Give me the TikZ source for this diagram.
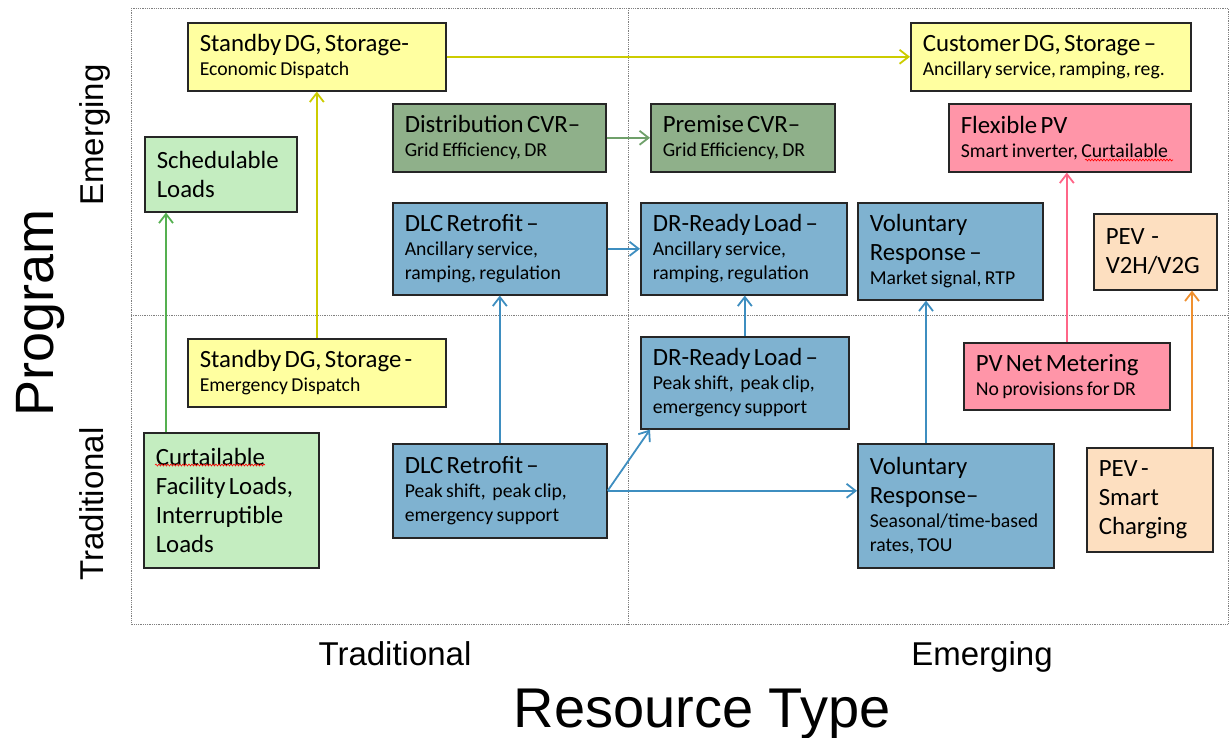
\documentclass[tikz,border=0pt]{standalone}
\usepackage{fontspec}
\newfontfamily\boxfont{Carlito}
\newfontfamily\axisfont{Liberation Sans}
\usetikzlibrary{arrows.meta,decorations.pathmorphing}

\definecolor{fillyel}{HTML}{FFFFA0}
\definecolor{fillgrn}{HTML}{C4EDC0}
\definecolor{filldkg}{HTML}{8FB08A}
\definecolor{fillblu}{HTML}{7FB2D0}
\definecolor{fillpnk}{HTML}{FF95A8}
\definecolor{fillpch}{HTML}{FDDFC0}
\definecolor{lineyel}{HTML}{CCCC00}
\definecolor{linegrn}{HTML}{55B050}
\definecolor{linedkg}{HTML}{6FA06A}
\definecolor{lineblu}{HTML}{3E8EC0}
\definecolor{linepnk}{HTML}{FF6688}
\definecolor{lineorg}{HTML}{F0902E}

\newcommand{\headtxt}{\fontsize{24.8}{29}\selectfont}
\newcommand{\notetxt}{\fontsize{19.7}{24}\selectfont}
\newcommand{\boxtxt}[2]{{\headtxt #1\par}{\notetxt #2\par}}

\begin{document}
\begin{tikzpicture}[x=1pt,y=-1pt,
  box/.style={rectangle, draw=black!85, line width=1.6pt, anchor=north west,
    inner xsep=12pt, inner ysep=0pt, font=\boxfont, align=left},
  ybox/.style={box, fill=fillyel},
  gbox/.style={box, fill=fillgrn},
  dbox/.style={box, fill=filldkg},
  bbox/.style={box, fill=fillblu},
  pbox/.style={box, fill=fillpnk},
  obox/.style={box, fill=fillpch},
  arr/.style={line width=1.8pt, -{Straight Barb[length=9pt,width=14pt]}},
  frame/.style={densely dotted, gray, line width=0.8pt},
  axis/.style={font=\axisfont\fontsize{33}{36}\selectfont, anchor=base},
  title/.style={font=\axisfont\fontsize{#1}{60}\selectfont, anchor=base},
  wavy/.style={red, line width=0.6pt, decorate,
    decoration={snake, amplitude=1pt, segment length=3pt}}
]
  \useasboundingbox (0,0) rectangle (1231,738);

  % quadrants
  \draw[frame] (131,8) rectangle (1228,624);
  \draw[frame] (628,8) -- (628,624);
  \draw[frame] (131,315) -- (1228,315);

  % axis labels
  \node[title=54, rotate=90] (prog) at (53,313) {Program};
  \node[axis, rotate=90] (pemg) at (103,135) {Emerging};
  \node[axis, rotate=90] (ptrd) at (103,504) {Traditional};
  \node[axis] (rtrd) at (395,665) {Traditional};
  \node[axis] (remg) at (982,665) {Emerging};
  \node[title=56] (rtype) at (702,727) {Resource Type};

  % emerging programs
  \node[ybox, text width=234pt, minimum height=68pt] (econ) at (187,22)
    {\boxtxt{Standby DG, Storage-}{Economic Dispatch}};
  \node[ybox, text width=256pt, minimum height=68pt] (custdg) at (910,22)
    {\boxtxt{Customer DG, Storage –}{Ancillary service, ramping, reg.}};
  \node[gbox, text width=128pt, minimum height=75pt] (sched) at (144,136)
    {{\headtxt Schedulable\\Loads\par}};
  \node[dbox, text width=189pt, minimum height=68pt] (distcvr) at (392,103)
    {\boxtxt{Distribution CVR–}{Grid Efficiency, DR}};
  \node[dbox, text width=160pt, minimum height=68pt] (premcvr) at (650,103)
    {\boxtxt{Premise CVR–}{Grid Efficiency, DR}};
  \node[pbox, text width=218pt, minimum height=68pt] (flexpv) at (948,103)
    {\boxtxt{Flexible PV}{Smart inverter, Curtailable}};
  \node[bbox, text width=190pt, minimum height=92pt] (dlcanc) at (392,202)
    {\boxtxt{DLC Retrofit –}{Ancillary service,\\ramping, regulation}};
  \node[bbox, text width=182pt, minimum height=92pt] (drranc) at (640,202)
    {\boxtxt{DR-Ready Load –}{Ancillary service,\\ramping, regulation}};
  \node[bbox, text width=161pt, minimum height=97pt] (volrtp) at (857,202)
    {\boxtxt{Voluntary\\Response –}{Market signal, RTP}};
  \node[obox, text width=99pt, minimum height=76pt] (pevv2g) at (1093,213)
    {{\headtxt PEV~~-\\V2H/V2G\par}};

  % traditional programs
  \node[ybox, text width=234pt, minimum height=68pt] (emerg) at (187,338)
    {\boxtxt{Standby DG, Storage -}{Emergency Dispatch}};
  \node[bbox, text width=184pt, minimum height=92pt] (drrpeak) at (640,336)
    {\boxtxt{DR-Ready Load –}{Peak shift,~ peak clip,\\emergency support}};
  \node[pbox, text width=182pt, minimum height=67pt] (pvnet) at (963,342)
    {\boxtxt{PV Net Metering}{No provisions for DR}};
  \node[gbox, text width=151pt, minimum height=135pt] (curt) at (143,432)
    {{\headtxt Curtailable\\Facility Loads,\\Interruptible\\Loads\par}};
  \node[bbox, text width=190pt, minimum height=94pt] (dlcpeak) at (392,443)
    {\boxtxt{DLC Retrofit –}{Peak shift,~ peak clip,\\emergency support}};
  \node[bbox, text width=172pt, minimum height=124pt] (voltou) at (857,443)
    {\boxtxt{Voluntary\\Response–}{Seasonal/time-based\\rates, TOU}};
  \node[obox, text width=102pt, minimum height=104pt] (pevsmart) at (1086,447)
    {{\headtxt PEV -\\Smart\\Charging\par}};

  % spelling marks
  \draw[wavy] (155,465) -- (265,465);
  \draw[wavy] (1085,160) -- (1173,160);

  % migration arrows
  \coordinate (curtup) at ([xshift=23pt]curt.north west);
  \coordinate (vtup) at ([xshift=69pt]voltou.north west);
  \coordinate (pevup) at ([xshift=106pt]pevsmart.north west);
  \draw[arr, lineyel] (emerg.north) -- (econ.south);
  \draw[arr, lineyel] (econ.east) -- (custdg.west);
  \draw[arr, linegrn] (curtup) -- (curtup |- sched.south);
  \draw[arr, linedkg] (distcvr.east) -- (premcvr.west);
  \draw[arr, lineblu] (dlcpeak.north) -- (dlcanc.south);
  \draw[arr, lineblu] (dlcanc.east) -- (drranc.west);
  \draw[arr, lineblu] (dlcpeak.east) -- ([xshift=10pt]drrpeak.south west);
  \draw[arr, lineblu] (dlcpeak.east) -- (dlcpeak.east -| voltou.west);
  \draw[arr, lineblu] (drrpeak.north) -- (drrpeak.north |- drranc.south);
  \draw[arr, lineblu] (vtup) -- (vtup |- volrtp.south);
  \draw[arr, linepnk] (pvnet.north) -- (pvnet.north |- flexpv.south);
  \draw[arr, lineorg] (pevup) -- (pevup |- pevv2g.south);
\end{tikzpicture}
\end{document}
